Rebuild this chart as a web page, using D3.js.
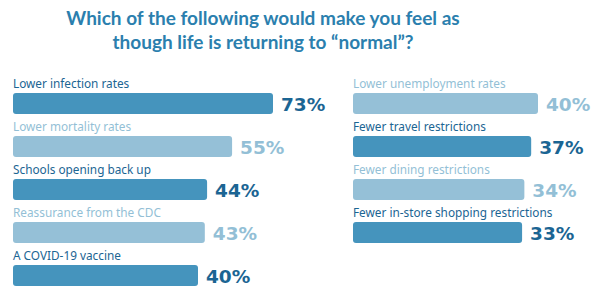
<!DOCTYPE html>
<html>
<head>
<meta charset="utf-8">
<script src="https://cdn.jsdelivr.net/npm/d3@7"></script>
<style>
  body { margin: 0; background: #fff; }
  svg { font-family: 'Lato', 'Noto Sans', sans-serif; }
</style>
</head>
<body>
<div class="chart-container"></div>
<script>
// chart data
var titleLines = ['Which of the following would make you feel as', 'though life is returning to \u201cnormal\u201d?'];

var leftLabels = ['Lower infection rates', 'Lower mortality rates', 'Schools opening back up', 'Reassurance from the CDC', 'A COVID-19 vaccine'];
var leftValues = [73, 55, 44, 43, 40];

var rightLabels = ['Lower unemployment rates', 'Fewer travel restrictions', 'Fewer dining restrictions', 'Fewer in-store shopping restrictions'];
var rightValues = [40, 37, 34, 33];

var width = 600;
var height = 298;

var darkBar = '#4594bd';
var lightBar = '#95c0d7';
var darkText = '#1b6593';
var lightText = '#93bfd6';
var titleColor = '#2b7fae';

var svg = d3.select('.chart-container').append('svg')
  .attr('width', width)
  .attr('height', height);

// title
svg.selectAll('.title')
  .data(titleLines)
  .enter()
  .append('text')
    .attr('class', 'title')
    .attr('x', 263)
    .attr('y', function (d, i) { return 25 + i * 24; })
    .attr('text-anchor', 'middle')
    .attr('font-size', 19)
    .attr('font-weight', 'bold')
    .attr('fill', titleColor)
    .text(function (d) { return d; });

// bar length scale (bars don't start at zero in the original)
var w = d3.scaleLinear()
  .domain([40, 73])
  .range([185, 260]);

// row position: 43px step, 21px bars
var y = d3.scaleBand()
  .domain(d3.range(5))
  .range([93, 93 + 43 * 4 + 21])
  .paddingInner(22 / 43)
  .paddingOuter(0);

// dark / light alternates row by row; the right column starts light
function drawColumn(x0, labels, values, offset) {
  var data = labels.map(function (l, i) {
    return { label: l, value: values[i], i: i, dark: (i + offset) % 2 === 0 };
  });
  var g = svg.append('g').attr('transform', 'translate(' + x0 + ',0)');

  var rows = g.selectAll('.row')
    .data(data)
    .enter()
    .append('g')
      .attr('class', 'row')
      .attr('transform', function (d) { return 'translate(0,' + y(d.i) + ')'; });

  rows.append('rect')
    .attr('x', 0)
    .attr('y', 0)
    .attr('width', function (d) { return w(d.value); })
    .attr('height', y.bandwidth())
    .attr('rx', 3)
    .attr('fill', function (d) { return d.dark ? darkBar : lightBar; });

  rows.append('text')
    .attr('x', 0)
    .attr('y', -5)
    .attr('font-family', "'Noto Sans', sans-serif")
    .attr('font-size', 11.8)
    .attr('fill', function (d) { return d.dark ? darkText : lightText; })
    .text(function (d) { return d.label; });

  rows.append('text')
    .attr('x', function (d) { return w(d.value) + 8; })
    .attr('y', y.bandwidth() - 3.5)
    .attr('font-family', "'DejaVu Sans', sans-serif")
    .attr('font-size', 18.5)
    .attr('font-weight', 'bold')
    .attr('fill', function (d) { return d.dark ? darkText : lightText; })
    .text(function (d) { return d.value + '%'; });
}

drawColumn(13, leftLabels, leftValues, 0);
drawColumn(353, rightLabels, rightValues, 1);
</script>
</body>
</html>
